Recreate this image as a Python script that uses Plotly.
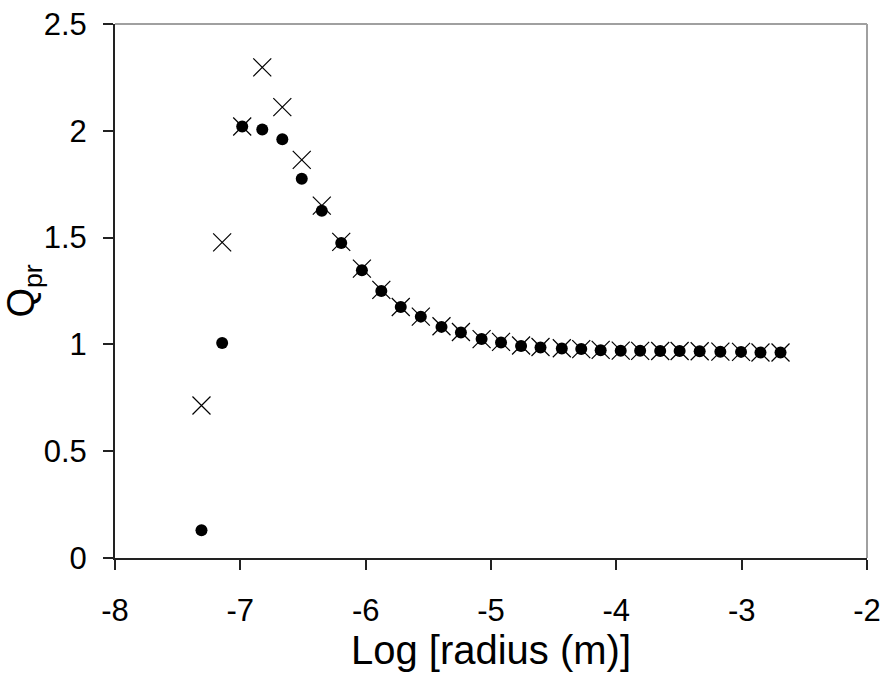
import plotly.graph_objects as go

# Data
log_radius = [-7.31, -7.145, -6.985, -6.825, -6.665, -6.51, -6.35, -6.195, -6.03, -5.875,
              -5.72, -5.56, -5.395, -5.24, -5.075, -4.92, -4.76, -4.605, -4.435, -4.28,
              -4.125, -3.965, -3.81, -3.65, -3.495, -3.335, -3.17, -3.005, -2.85, -2.69]
q_dots = [0.13, 1.007, 2.02, 2.006, 1.96, 1.776, 1.626, 1.475, 1.347, 1.25,
          1.175, 1.13, 1.082, 1.056, 1.025, 1.009, 0.993, 0.986, 0.981, 0.978,
          0.973, 0.970, 0.970, 0.969, 0.969, 0.968, 0.966, 0.965, 0.962, 0.962]
q_cross = [0.714, 1.478, 2.02, 2.297, 2.111, 1.864, 1.65, 1.48, 1.355, 1.255,
           1.175, 1.13, 1.085, 1.058, 1.025, 1.012, 0.995, 0.988, 0.982, 0.978,
           0.974, 0.971, 0.970, 0.969, 0.969, 0.968, 0.966, 0.965, 0.962, 0.962]
x_ticks = [-8, -7, -6, -5, -4, -3, -2]
y_ticks = [0, 0.5, 1, 1.5, 2, 2.5]

FONT = "Liberation Sans, Arial, sans-serif"

fig = go.Figure()
fig.add_trace(go.Scatter(
    x=log_radius, y=q_dots, mode="markers",
    marker=dict(symbol="circle", size=12, color="black", line=dict(width=0)),
    showlegend=False))
fig.add_trace(go.Scatter(
    x=log_radius, y=q_cross, mode="markers",
    marker=dict(symbol="x-thin", size=18, line=dict(width=1.2, color="black")),
    showlegend=False))

fig.update_layout(
    width=889, height=679,
    margin=dict(l=115, r=22, t=24, b=121),
    paper_bgcolor="white", plot_bgcolor="white",
    font=dict(family=FONT, color="black"),
    xaxis=dict(
        range=[-8, -2], tickvals=x_ticks, ticktext=[str(v) for v in x_ticks],
        showgrid=False, zeroline=False,
        showline=True, linecolor="#222", linewidth=2,
        ticks="outside", ticklen=10, tickwidth=2, tickcolor="#222",
        tickfont=dict(size=31, family=FONT), ticklabelstandoff=14,
        title=dict(text="Log [radius (m)]", font=dict(size=40, family=FONT), standoff=0),
        automargin=False),
    yaxis=dict(
        range=[0, 2.5], tickvals=y_ticks, ticktext=["0", "0.5", "1", "1.5", "2", "2.5"],
        showgrid=False, zeroline=False,
        showline=True, linecolor="#222", linewidth=2,
        ticks="outside", ticklen=10, tickwidth=2, tickcolor="#222",
        tickfont=dict(size=31, family=FONT), ticklabelstandoff=10,
        title=dict(text="Q<sub>pr</sub>", font=dict(size=38, family=FONT), standoff=10),
        automargin=False),
)
# gray top and right frame lines
fig.add_shape(type="line", xref="paper", yref="paper", x0=0, x1=1, y0=1, y1=1,
              line=dict(color="#a0a0a0", width=2))
fig.add_shape(type="line", xref="paper", yref="paper", x0=1, x1=1, y0=0, y1=1,
              line=dict(color="#a0a0a0", width=2))

fig.write_html("out.html")
